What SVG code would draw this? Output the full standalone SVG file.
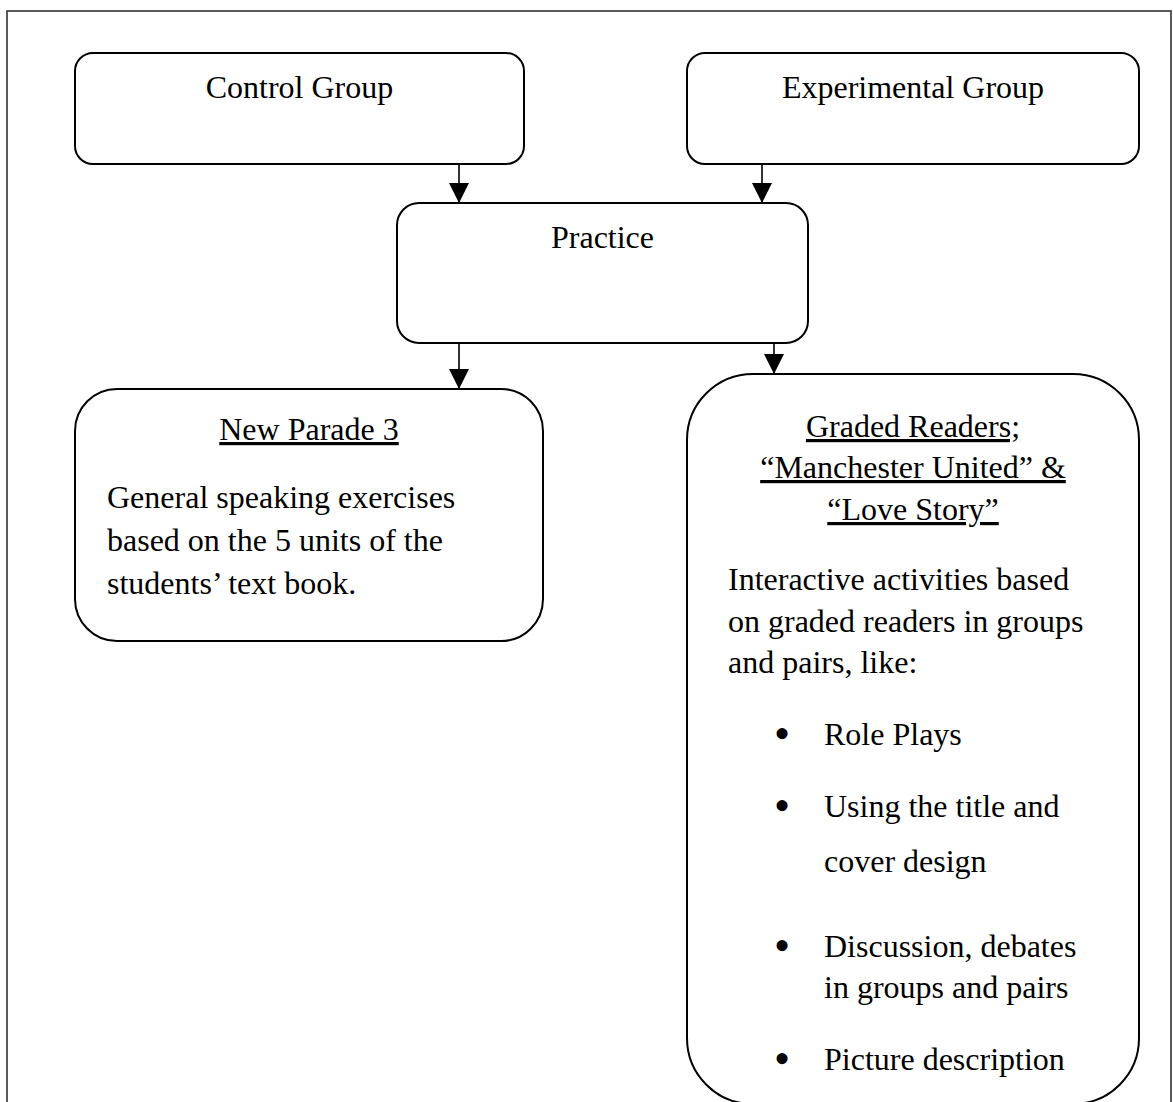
<svg xmlns="http://www.w3.org/2000/svg" width="1173" height="1102" viewBox="0 0 1173 1102">
<defs>
<style>
.frame{fill:none;stroke:#333;stroke-width:1.6}
.box{fill:#fff;stroke:#000;stroke-width:2}
.t{font-family:"Liberation Serif","Times New Roman",serif;font-size:32px;fill:#000}
.c{text-anchor:middle}
.u{text-decoration:underline}
.b{font-family:"Liberation Serif","Times New Roman",serif;font-size:46px;fill:#000;text-anchor:middle}
.conn{stroke:#000;stroke-width:1.6;fill:none;marker-end:url(#ah)}
</style>
<marker id="ah" markerUnits="userSpaceOnUse" markerWidth="20" markerHeight="20" refX="20" refY="10" orient="auto">
<path d="M0,0 L20,10 L0,20 Z" fill="#000"/>
</marker>
</defs>
<rect width="1173" height="1102" fill="#fff"/>
<rect class="frame" x="7" y="11" width="1164" height="1110"/>
<g id="connectors">
<line class="conn" x1="459" y1="165" x2="459" y2="203"/>
<line class="conn" x1="762" y1="165" x2="762" y2="203"/>
<line class="conn" x1="459" y1="343" x2="459" y2="389"/>
<line class="conn" x1="774" y1="343" x2="774" y2="374"/>
</g>
<g id="control-group">
<rect class="box" x="75" y="53" width="449" height="111" rx="18"/>
<text class="t c" x="299.5" y="98">Control Group</text>
</g>
<g id="experimental-group">
<rect class="box" x="687" y="53" width="452" height="111" rx="18"/>
<text class="t c" x="913" y="98">Experimental Group</text>
</g>
<g id="practice">
<rect class="box" x="397" y="203" width="411" height="140" rx="22"/>
<text class="t c" x="602.5" y="248">Practice</text>
</g>
<g id="new-parade">
<rect class="box" x="75" y="389" width="468" height="252" rx="42"/>
<text class="t c u" x="309" y="440">New Parade 3</text>
<text class="t" x="107" y="508">General speaking exercises</text>
<text class="t" x="107" y="551">based on the 5 units of the</text>
<text class="t" x="107" y="594">students’ text book.</text>
</g>
<g id="graded-readers">
<rect class="box" x="687" y="374" width="452" height="730" rx="66"/>
<text class="t c u" x="913" y="437">Graded Readers;</text>
<text class="t c u" x="913" y="478">“Manchester United” &amp;</text>
<text class="t c u" x="913" y="520">“Love Story”</text>
<text class="t" x="728" y="590">Interactive activities based</text>
<text class="t" x="728" y="632">on graded readers in groups</text>
<text class="t" x="728" y="673">and pairs, like:</text>
<text class="b" x="782" y="749">•</text>
<text class="t" x="824" y="745">Role Plays</text>
<text class="b" x="782" y="821">•</text>
<text class="t" x="824" y="817">Using the title and</text>
<text class="t" x="824" y="872">cover design</text>
<text class="b" x="782" y="961">•</text>
<text class="t" x="824" y="957">Discussion, debates</text>
<text class="t" x="824" y="998">in groups and pairs</text>
<text class="b" x="782" y="1074">•</text>
<text class="t" x="824" y="1070">Picture description</text>
</g>
</svg>
